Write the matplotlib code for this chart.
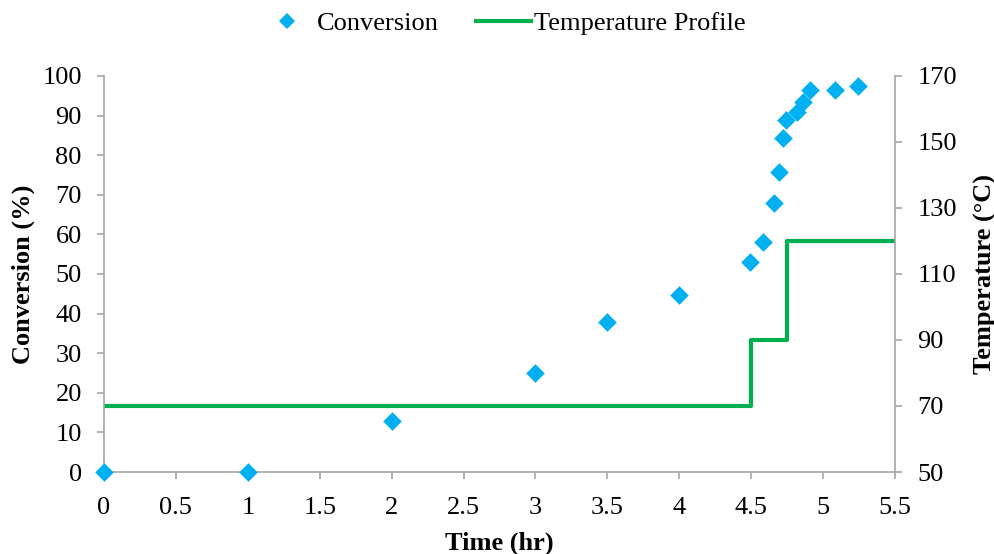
import matplotlib
matplotlib.use("Agg")
import matplotlib.pyplot as plt
from matplotlib.lines import Line2D

plt.rcParams['font.family'] = ['Liberation Serif', 'DejaVu Serif']

time_hr = [0, 1, 2, 3, 3.5, 4, 4.49, 4.58, 4.66, 4.69, 4.72, 4.74, 4.82, 4.86, 4.91, 5.08, 5.24]
conversion = [0, 0, 13, 25, 37.8, 44.7, 53, 58.1, 67.8, 75.8, 84.3, 88.9, 91, 93.5, 96.5, 96.5, 97.5]

temp_time = [0, 4.5, 4.5, 4.75, 4.75, 5.5]
temp_c = [70, 70, 90, 90, 120, 120]

x_ticks = [0, 0.5, 1, 1.5, 2, 2.5, 3, 3.5, 4, 4.5, 5, 5.5]
x_ticklabels = ['0', '0.5', '1', '1.5', '2', '2.5', '3', '3.5', '4', '4.5', '5', '5.5']
y_ticks = list(range(0, 101, 10))
t_ticks = list(range(50, 171, 20))

blue = '#00B0F0'
green = '#00B050'
spine_c = '#A6A6A6'
FS = 19

fig = plt.figure(figsize=(9.95, 5.54), dpi=100)
ax = fig.add_axes([0.1045, 0.148, 0.795, 0.715])
ax2 = ax.twinx()

ax.scatter(time_hr, conversion, marker='D', s=90, color=blue, zorder=5, clip_on=False, linewidths=0)
ax2.plot(temp_time, temp_c, color=green, lw=3, solid_capstyle='butt')
ax.set_zorder(ax2.get_zorder() + 1)
ax.patch.set_visible(False)

ax.set_xlim(0, 5.5)
ax.set_ylim(0, 100)
ax2.set_ylim(50, 170)
ax.set_xticks(x_ticks)
ax.set_xticklabels(x_ticklabels)
ax.set_yticks(y_ticks)
ax2.set_yticks(t_ticks)

for a in (ax, ax2):
    a.spines['top'].set_visible(False)
    for s in ('left', 'right', 'bottom'):
        a.spines[s].set_color(spine_c)
        a.spines[s].set_linewidth(1.2)
    a.tick_params(axis='both', colors=spine_c, labelcolor='black', labelsize=FS, length=5, width=1.2)
ax.tick_params(axis='y', pad=11)
ax.tick_params(axis='x', pad=13)
ax2.tick_params(axis='y', pad=11)
ax.spines['right'].set_visible(False)
ax2.spines['left'].set_visible(False)
ax2.spines['bottom'].set_visible(False)

ax.set_xlabel('Time (hr)', fontsize=FS, fontweight='bold', labelpad=9)
ax.set_ylabel('Conversion (%)', fontsize=FS, fontweight='bold', labelpad=5.5)
ax2.set_ylabel('Temperature (°C)', fontsize=FS, fontweight='bold', labelpad=12)

handles = [Line2D([], [], marker='D', color=blue, ls='none', markersize=8, markeredgewidth=0),
           Line2D([], [], color=green, lw=3)]
fig.legend(handles, ['Conversion', 'Temperature Profile'], loc='center',
           bbox_to_anchor=(0.505, 0.958), ncol=2, frameon=False, fontsize=FS,
           handlelength=2.1, columnspacing=1.4, handletextpad=0.1)

fig.savefig('out.png', dpi=100)
